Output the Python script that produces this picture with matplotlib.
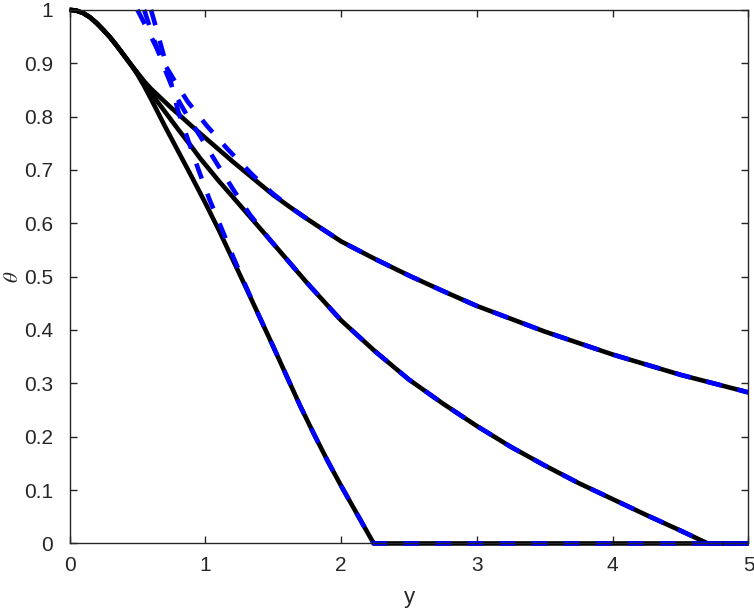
import numpy as np
import matplotlib
matplotlib.use('Agg')
import matplotlib.pyplot as plt

plt.rcParams['font.family'] = ['Liberation Sans', 'DejaVu Sans']
plt.rcParams['mathtext.fontset'] = 'stix'

# solid black curves (numerical)
yA = [0, 0.05, 0.1, 0.15, 0.2, 0.25, 0.3, 0.35, 0.4, 0.45, 0.5, 0.55, 0.6, 0.65, 0.7, 0.75, 0.8, 0.9, 1.0, 1.1, 1.2,
      1.3, 1.4, 1.5, 1.6, 1.7, 1.8, 1.9, 2.0, 2.1, 2.2, 2.24, 5.0]
thA = [1, 0.9985, 0.994, 0.986, 0.975, 0.962, 0.948, 0.932, 0.915, 0.898, 0.879, 0.857, 0.833, 0.808, 0.783, 0.759,
       0.735, 0.687, 0.638, 0.587, 0.533, 0.479, 0.424, 0.369, 0.313, 0.257, 0.205, 0.155, 0.108, 0.063, 0.018, 0.0, 0.0]

yB = [0, 0.05, 0.1, 0.15, 0.2, 0.25, 0.3, 0.35, 0.4, 0.45, 0.5, 0.55, 0.6, 0.65, 0.7, 0.8, 0.9, 0.961, 1.1, 1.2,
      1.476, 1.75, 2.0, 2.25, 2.5, 2.75, 3.0, 3.25, 3.5, 3.75, 4.0, 4.25, 4.5, 4.7, 5.0]
thB = [1, 0.9985, 0.994, 0.986, 0.975, 0.962, 0.948, 0.932, 0.915, 0.898, 0.881, 0.863, 0.845, 0.827, 0.810, 0.776,
       0.743, 0.722, 0.679, 0.650, 0.569, 0.488, 0.418, 0.360, 0.307, 0.262, 0.220, 0.181, 0.146, 0.113, 0.083,
       0.053, 0.024, 0.0, 0.0]

yC = [0, 0.05, 0.1, 0.15, 0.2, 0.25, 0.3, 0.35, 0.4, 0.45, 0.5, 0.55, 0.6, 0.65, 0.7, 0.75, 0.8, 0.9, 1.0, 1.1, 1.2,
      1.3, 1.4, 1.5, 1.625, 1.75, 1.875, 2.0, 2.25, 2.5, 2.75, 3.0, 3.5, 4.0, 4.5, 5.0]
thC = [1, 0.9985, 0.994, 0.986, 0.975, 0.962, 0.948, 0.932, 0.915, 0.898, 0.882, 0.866, 0.852, 0.840, 0.828, 0.816,
       0.805, 0.782, 0.760, 0.738, 0.716, 0.695, 0.674, 0.653, 0.630, 0.608, 0.587, 0.566, 0.533, 0.502, 0.473,
       0.445, 0.397, 0.354, 0.316, 0.283]

# dashed blue curves (asymptotic)
yA_as = [0.60, 0.65, 0.72, 0.80, 0.87, 0.95, 1.03, 1.12, 1.2, 1.3, 1.4, 1.5, 1.6, 1.7, 1.8, 1.9, 2.0, 2.1, 2.2, 2.24, 5.0]
thA_as = [1.0, 0.955, 0.89, 0.81, 0.758, 0.70, 0.645, 0.59, 0.540, 0.481, 0.424, 0.369, 0.313, 0.257, 0.205, 0.155,
          0.108, 0.063, 0.018, 0.0, 0.0]

yB_as = [0.55, 0.62, 0.70, 0.78, 0.87, 0.965, 1.085, 1.206, 1.329, 1.476, 1.75, 2.0, 2.25, 2.5, 2.75, 3.0, 3.25,
         3.5, 3.75, 4.0, 4.25, 4.5, 4.7, 5.0]
thB_as = [1.0, 0.945, 0.89, 0.84, 0.80, 0.762, 0.712, 0.663, 0.616, 0.569, 0.488, 0.418, 0.360, 0.307, 0.262,
          0.220, 0.181, 0.146, 0.113, 0.083, 0.053, 0.024, 0.0, 0.0]

yC_as = [0.50, 0.60, 0.70, 0.80, 0.87, 1.01, 1.16, 1.35, 1.5, 1.625, 1.75, 1.875, 2.0, 2.25, 2.5, 2.75, 3.0, 3.5,
         4.0, 4.5, 5.0]
thC_as = [1.0, 0.95, 0.898, 0.856, 0.828, 0.783, 0.740, 0.690, 0.655, 0.630, 0.608, 0.587, 0.566, 0.533, 0.502,
          0.473, 0.445, 0.397, 0.354, 0.316, 0.283]

fig = plt.figure(figsize=(7.54, 6.12), dpi=100)
ax = fig.add_axes([0.0922, 0.112, 0.9005, 0.872])

for y, th in [(yA, thA), (yB, thB), (yC, thC)]:
    ax.plot(y, th, color='k', lw=3.3, clip_on=False, solid_capstyle='butt', solid_joinstyle='round')
for y, th in [(yA_as, thA_as), (yB_as, thB_as), (yC_as, thC_as)]:
    ax.plot(y, th, color=(0, 0, 1), lw=3.3, ls=(0, (3.5, 3.5)), clip_on=False,
            dash_capstyle='butt', dash_joinstyle='round')

ax.set_xlim(0, 5)
ax.set_ylim(0, 1)
ax.set_xticks(np.arange(0, 6, 1))
ax.set_yticks(np.arange(0, 1.01, 0.1))
ax.set_yticklabels(['0', '0.1', '0.2', '0.3', '0.4', '0.5', '0.6', '0.7', '0.8', '0.9', '1'])
ax.tick_params(direction='in', length=5, width=1, top=True, right=True,
               labelsize=15, colors=(0.15, 0.15, 0.15))
ax.tick_params(axis='x', pad=9)
ax.tick_params(axis='y', pad=12)
for s in ax.spines.values():
    s.set_color((0.15, 0.15, 0.15))
    s.set_linewidth(1)

ax.set_xlabel('y', fontsize=16, color=(0.15, 0.15, 0.15), labelpad=9)
ax.set_ylabel(r'$\theta$', fontsize=15, color=(0.15, 0.15, 0.15))
ax.yaxis.set_label_coords(-0.07, 0.5)

fig.savefig('out.png', dpi=100)
